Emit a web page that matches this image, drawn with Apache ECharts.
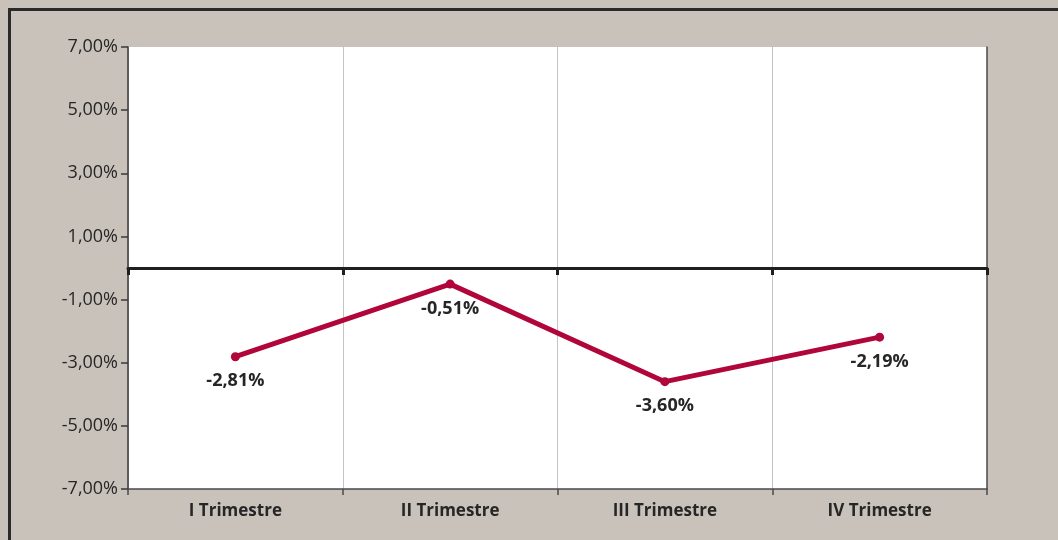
<!DOCTYPE html>
<html>
<head>
<meta charset="utf-8">
<script src="https://cdn.jsdelivr.net/npm/echarts@6/dist/echarts.min.js"></script>
<style>
    html, body { margin: 0; padding: 0; }
    #chart { width: 1058px; height: 540px; }
</style>
</head>
<body>
<div id="chart"></div>
<script>
// Datos del gráfico
var trimestres = ["I Trimestre", "II Trimestre", "III Trimestre", "IV Trimestre"];
var variacion = [-2.81, -0.51, -3.60, -2.19];
var ejeMin = -7;
var ejeMax = 7;
var ejePaso = 2;

function pct(v) {
    return v.toFixed(2).replace(".", ",") + "%";
}

var myChart = echarts.init(document.getElementById("chart"));
var fuente = "'Open Sans', 'Noto Sans', sans-serif";

var option = {
    backgroundColor: "#c9c2bb",
    animation: false,
    textStyle: { fontFamily: fuente },
    graphic: [
        {
            type: "rect",
            shape: { x: 9.5, y: 9.5, width: 1200, height: 700 },
            style: { fill: "none", stroke: "#2a2a2a", lineWidth: 3 },
            z: 100
        }
    ],
    grid: { left: 128, right: 71, top: 47, bottom: 51, show: true, backgroundColor: "#ffffff", borderWidth: 0 },
    xAxis: [
        {
            type: "category",
            data: trimestres,
            position: "bottom",
            axisLine: { onZero: false, lineStyle: { color: "#4a4a4a", width: 1.5 } },
            axisTick: { show: true, interval: 0, length: 6, lineStyle: { color: "#4a4a4a", width: 1.5 } },
            axisLabel: { color: "#262626", fontSize: 17, fontWeight: "bold", margin: 14, fontFamily: fuente },
            splitLine: { show: true, interval: 0, lineStyle: { color: "#c4c4c4", width: 1 } }
        },
        {
            type: "category",
            data: trimestres,
            position: "top",
            axisLine: { onZero: true, lineStyle: { color: "#1f1f1f", width: 3 } },
            axisTick: { show: true, inside: true, interval: 0, length: 7, lineStyle: { color: "#1f1f1f", width: 3 } },
            axisLabel: { show: false },
            splitLine: { show: false }
        }
    ],
    yAxis: [
        {
            type: "value",
            min: ejeMin,
            max: ejeMax,
            interval: ejePaso,
            axisLine: { show: true, lineStyle: { color: "#3a3a3a", width: 1.5 } },
            axisTick: { show: true, length: 7, lineStyle: { color: "#3a3a3a", width: 1.5 } },
            axisLabel: {
                color: "#262626",
                fontSize: 18,
                margin: 10,
                fontFamily: fuente,
                formatter: function (v) { return pct(v); }
            },
            splitLine: { show: false }
        },
        {
            type: "value",
            min: ejeMin,
            max: ejeMax,
            interval: ejePaso,
            position: "right",
            axisLine: { show: true, lineStyle: { color: "#4a4a4a", width: 1.5 } },
            axisTick: { show: false },
            axisLabel: { show: false },
            splitLine: { show: false }
        }
    ],
    series: [
        {
            name: "Variación",
            type: "line",
            data: variacion,
            symbol: "circle",
            symbolSize: 9,
            itemStyle: { color: "#b0063a" },
            lineStyle: { color: "#b0063a", width: 5 },
            label: {
                show: true,
                position: "bottom",
                distance: 11,
                color: "#262626",
                fontSize: 18,
                fontWeight: "bold",
                fontFamily: fuente,
                formatter: function (p) { return pct(p.value); }
            },
            z: 5
        }
    ]
};

myChart.setOption(option);
</script>
</body>
</html>
